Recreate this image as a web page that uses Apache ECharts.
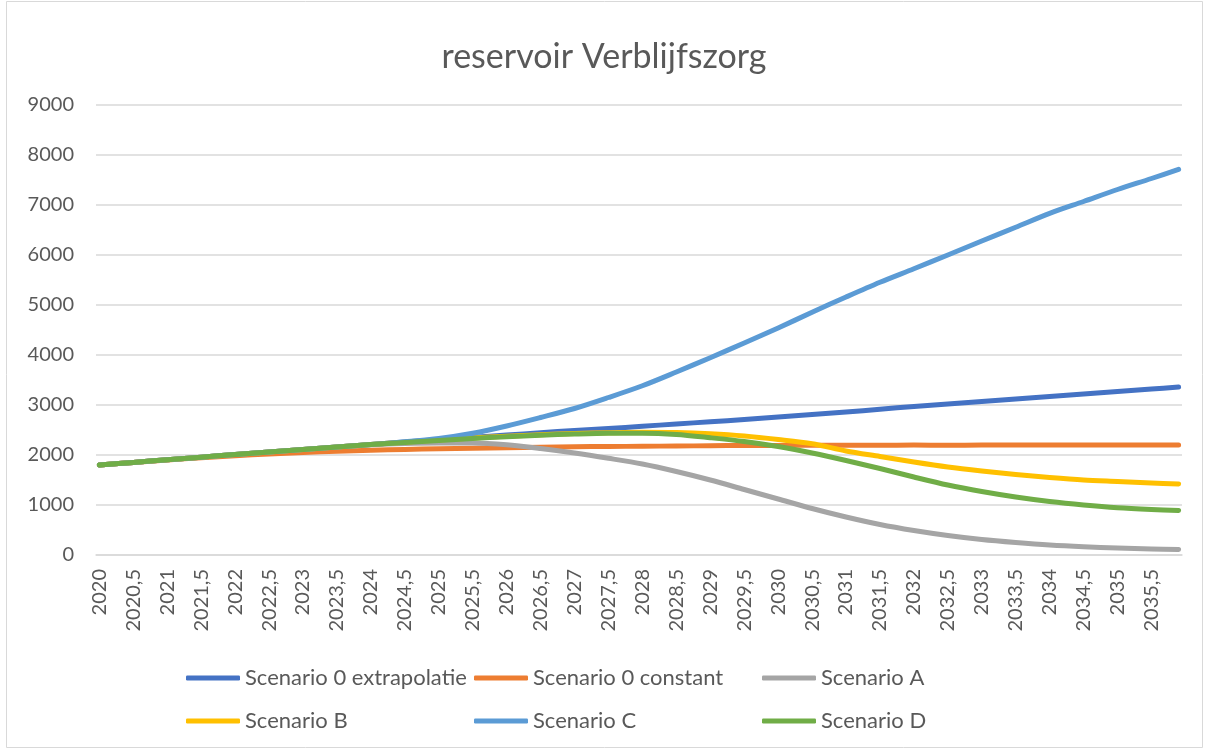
<!DOCTYPE html>
<html>
<head>
<meta charset="utf-8">
<script src="https://cdn.jsdelivr.net/npm/echarts@6/dist/echarts.min.js"></script>
<style>
  html, body { margin: 0; padding: 0; background: #ffffff; }
  #chart { width: 1208px; height: 751px; }
</style>
</head>
<body>
<div id="chart"></div>
<script>
// Sample moments (years, half-year steps plus the final step)
const years = [2020, 2020.5, 2021, 2021.5, 2022, 2022.5, 2023, 2023.5, 2024, 2024.5,
  2025, 2025.5, 2026, 2026.5, 2027, 2027.5, 2028, 2028.5, 2029, 2029.5,
  2030, 2030.5, 2031, 2031.5, 2032, 2032.5, 2033, 2033.5, 2034, 2034.5,
  2035, 2035.5, 2035.9];

// Labelled positions on the time axis
const tickYears = [2020, 2020.5, 2021, 2021.5, 2022, 2022.5, 2023, 2023.5, 2024, 2024.5,
  2025, 2025.5, 2026, 2026.5, 2027, 2027.5, 2028, 2028.5, 2029, 2029.5,
  2030, 2030.5, 2031, 2031.5, 2032, 2032.5, 2033, 2033.5, 2034, 2034.5,
  2035, 2035.5];

const scenario0Extrapolatie = [1800, 1852, 1905, 1957, 2010, 2060, 2110, 2160, 2210, 2260,
  2310, 2355, 2400, 2445, 2490, 2530, 2575, 2620, 2665, 2710,
  2760, 2810, 2860, 2915, 2970, 3020, 3070, 3120, 3170, 3220,
  3270, 3320, 3360];

const scenario0Constant = [1800, 1850, 1900, 1945, 1985, 2020, 2050, 2075, 2095, 2110,
  2125, 2135, 2145, 2155, 2165, 2170, 2175, 2180, 2185, 2190,
  2190, 2195, 2195, 2195, 2198, 2195, 2198, 2198, 2198, 2200,
  2198, 2200, 2200];

const scenarioA = [1800, 1852, 1905, 1957, 2010, 2060, 2110, 2160, 2205, 2230,
  2240, 2240, 2205, 2130, 2040, 1935, 1820, 1670, 1500, 1310,
  1120, 930, 760, 610, 490, 390, 310, 250, 200, 165,
  140, 120, 110];

const scenarioB = [1800, 1852, 1905, 1957, 2010, 2060, 2110, 2160, 2210, 2255,
  2300, 2340, 2375, 2405, 2430, 2445, 2455, 2450, 2425, 2380,
  2310, 2225, 2080, 1970, 1860, 1760, 1680, 1610, 1550, 1500,
  1470, 1440, 1420];

const scenarioC = [1800, 1852, 1905, 1957, 2010, 2060, 2110, 2160, 2210, 2265,
  2330, 2435, 2580, 2750, 2930, 3150, 3385, 3660, 3945, 4240,
  4540, 4855, 5160, 5455, 5725, 6000, 6280, 6555, 6833, 7070,
  7310, 7530, 7714];

const scenarioD = [1800, 1852, 1905, 1957, 2010, 2060, 2110, 2160, 2210, 2250,
  2290, 2330, 2365, 2395, 2420, 2435, 2435, 2410, 2345, 2270,
  2170, 2040, 1890, 1730, 1560, 1400, 1270, 1160, 1070, 1000,
  945, 910, 890];

const seriesNames = ['Scenario 0 extrapolatie', 'Scenario 0 constant', 'Scenario A',
  'Scenario B', 'Scenario C', 'Scenario D'];
const seriesValues = [scenario0Extrapolatie, scenario0Constant, scenarioA,
  scenarioB, scenarioC, scenarioD];
const seriesColors = ['#4472C4', '#ED7D31', '#A5A5A5', '#FFC000', '#5B9BD5', '#70AD47'];

const FONT = 'Lato, "Open Sans", sans-serif';
const TEXT = '#595959';

const chart = echarts.init(document.getElementById('chart'), null, { renderer: 'canvas' });

// One legend column holds two entries stacked vertically
function legendColumn(names, left) {
  return {
    data: names,
    orient: 'vertical',
    left: left,
    top: 661,
    itemWidth: 54,
    itemHeight: 5,
    itemGap: 19,
    icon: 'roundRect',
    selectedMode: false,
    textStyle: { color: TEXT, fontFamily: FONT, fontSize: 22, lineHeight: 24 }
  };
}

chart.setOption({
  animation: false,
  backgroundColor: '#ffffff',
  title: {
    text: 'reservoir Verblijfszorg',
    left: 'center',
    top: 34,
    textStyle: { color: TEXT, fontFamily: FONT, fontSize: 34, fontWeight: 'normal', lineHeight: 37 }
  },
  graphic: [{
    type: 'rect',
    shape: { x: 6.5, y: 1.5, width: 1196, height: 746 },
    style: { fill: 'none', stroke: '#D9D9D9', lineWidth: 1 },
    silent: true
  }],
  legend: [
    legendColumn([seriesNames[0], seriesNames[3]], 181),
    legendColumn([seriesNames[1], seriesNames[4]], 469),
    legendColumn([seriesNames[2], seriesNames[5]], 757)
  ],
  grid: { left: 96, right: 26, top: 105, bottom: 196, containLabel: false },
  xAxis: {
    type: 'value',
    min: 2019.95,
    max: 2035.95,
    axisLine: { show: true, lineStyle: { color: '#D9D9D9', width: 1.5 } },
    axisTick: { show: false },
    splitLine: { show: false },
    axisLabel: {
      customValues: tickYears,
      rotate: 90,
      margin: 14,
      color: TEXT,
      fontFamily: FONT,
      fontSize: 20,
      formatter: v => String(v).replace('.', ',')
    }
  },
  yAxis: {
    type: 'value',
    min: 0,
    max: 9000,
    interval: 1000,
    axisLine: { show: false },
    axisTick: { show: false },
    splitLine: { lineStyle: { color: '#D9D9D9', width: 1.5 } },
    axisLabel: {
      color: TEXT, fontFamily: FONT, fontSize: 20, margin: 22,
      formatter: v => String(v)
    }
  },
  series: seriesNames.map((name, i) => ({
    name: name,
    type: 'line',
    data: years.map((y, j) => [y, seriesValues[i][j]]),
    showSymbol: false,
    symbol: 'none',
    smooth: 0.3,
    color: seriesColors[i],
    lineStyle: { width: 5, color: seriesColors[i], cap: 'round', join: 'round' },
    emphasis: { disabled: true }
  }))
});
</script>
</body>
</html>
